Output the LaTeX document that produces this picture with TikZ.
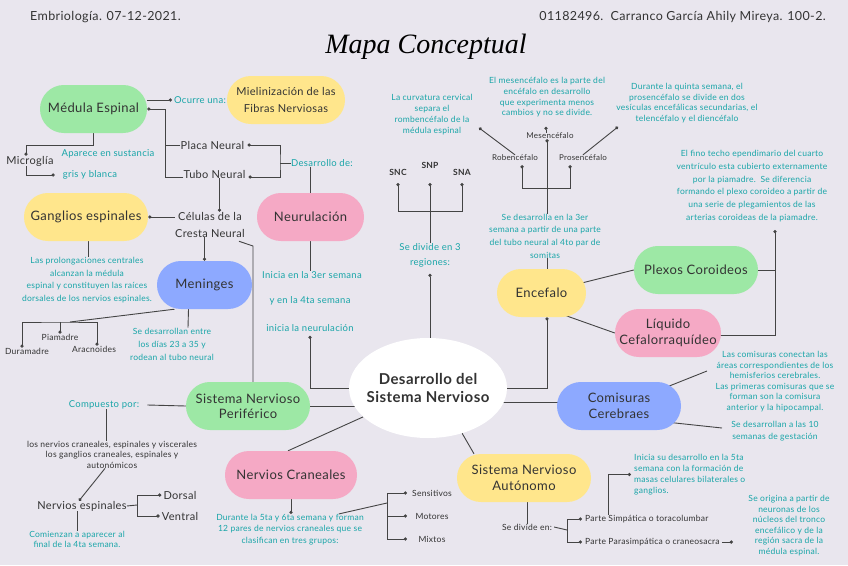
\documentclass[tikz,border=0pt]{standalone}
\usepackage{fontspec}
\setmainfont{Lato}[LetterSpace=3]
\newfontfamily\titlefont{Liberation Serif}
\usetikzlibrary{arrows.meta,shapes.geometric}
\definecolor{bgc}{HTML}{E9E6EE}
\definecolor{grn}{HTML}{9DE8A5}
\definecolor{yel}{HTML}{FFE68C}
\definecolor{pnk}{HTML}{F5A9C5}
\definecolor{blu}{HTML}{8DA9FF}
\definecolor{tealc}{HTML}{19A5A8}
\definecolor{ink}{HTML}{333333}
\definecolor{linec}{HTML}{444444}
\newcommand{\myfs}[2]{\fontsize{#1}{#2}\selectfont}
\pgfdeclarelayer{back}
\pgfsetlayers{back,main}
\tikzset{
 pill/.style={rectangle, rounded corners=23.9pt, minimum height=48pt, inner sep=0pt, align=center, text=ink, font=\myfs{13}{16}},
 hd/.style={text=ink, inner sep=0pt, font=\myfs{12.5}{14}},
 dk/.style={text=ink, inner sep=0pt, align=center, font=\myfs{11}{17}},
 sm/.style={text=ink, inner sep=0pt, align=center, font=\myfs{8.5}{10.5}},
 bsm/.style={text=ink, inner sep=0pt, align=center, font=\bfseries\myfs{8.5}{10.5}},
 tn/.style={text=tealc, inner sep=0pt, align=center, font=\myfs{8.5}{#1}},
 tn/.default=10.6,
 tm/.style={text=tealc, inner sep=0pt, align=center, font=\myfs{9.5}{#1}},
 tm/.default=12,
 ln/.style={draw=linec, line width=0.9pt},
 dot/.style={-{Circle[length=3.2pt]}},
 sdot/.style={{Circle[length=3.2pt]}-},
 ddot/.style={{Circle[length=3.2pt]}-{Circle[length=3.2pt]}},
}
\begin{document}
\begin{tikzpicture}[x=1pt,y=-1pt]
\useasboundingbox (0,0) rectangle (848,565);
% header and title
\node[hd, anchor=west] (h1) at (30,17) {Embriología. 07-12-2021.};
\node[hd, anchor=east] (h2) at (826,17) {01182496.\ \ Carranco García Ahily Mireya. 100-2.};
\node[text=black, inner sep=0pt, font=\titlefont\itshape\myfs{28}{30}] (tt) at (426,47) {Mapa Conceptual};

% left upper
\node[pill, fill=grn, minimum width=107pt] (med) at (93.5,109) {Médula Espinal};
\node[pill, fill=yel, minimum width=118pt, font=\myfs{11}{17}] (miel) at (286,100) {Mielinización de las\\Fibras Nerviosas};
\node[tm] (ocu) at (200,100) {Ocurre una:};
\node[dk] (placa) at (212.5,145) {Placa Neural};
\node[dk] (tubo) at (214.5,174) {Tubo Neural};
\node[tm] (des) at (322,163) {Desarrollo de:};
\node[pill, fill=pnk, minimum width=107pt] (neu) at (310.5,217) {Neurulación};
\node[tm] (n1) at (312,275) {Inicia en la 3er semana};
\node[tm] (n2) at (310,301) {y en la 4ta semana};
\node[tm] (n3) at (310,328) {inicia la neurulación};
\node[dk] (mic) at (30,161) {Microglía};
\node[tm] (apa) at (108,154) {Aparece en sustancia};
\node[tm] (gris) at (90,175) {gris y blanca};
\node[dk] (cel) at (210,224.5) {Células de la\\Cresta Neural};
\node[pill, fill=yel, minimum width=124pt] (gan) at (86,217) {Ganglios espinales};
\node[tn=12.6] (gnote) at (87,280) {Las prolongaciones centrales\\alcanzan la médula\\espinal y constituyen las raíces\\dorsales de los nervios espinales.};
\node[pill, fill=blu, minimum width=95pt] (men) at (204.5,285) {Meninges};
\node[sm] (dura) at (27,351) {Duramadre};
\node[sm] (pia) at (60,337) {Piamadre};
\node[sm] (arac) at (94,349) {Aracnoides};
\node[tn=13] (mnote) at (172,344) {Se desarrollan entre\\los días 23 a 35 y\\rodean al tubo neural};

% left lower
\node[pill, fill=grn, minimum width=124pt, font=\myfs{13}{15}] (per) at (248,406) {Sistema Nervioso\\Periférico};
\node[tm] (comp) at (104,405) {Compuesto por:};
\node[sm] (list) at (112,454.5) {los nervios craneales, espinales y viscerales\\los ganglios craneales, espinales y\\autonómicos};
\node[dk] (nesp) at (82,506) {Nervios espinales};
\node[dk] (dors) at (180,495) {Dorsal};
\node[dk] (vent) at (180,516) {Ventral};
\node[tn=10] (comi) at (77,539) {Comienzan a aparecer al\\final de la 4ta semana.};
\node[pill, fill=pnk, minimum width=132pt] (ncr) at (291,475) {Nervios Craneales};
\node[tn=11.5] (cnote) at (290,529.5) {Durante la 5ta y 6ta semana y forman\\12 pares de nervios craneales que se\\clasifican en tres grupos:};
\node[sm] (sens) at (432,493) {Sensitivos};
\node[sm] (mot) at (432,516) {Motores};
\node[sm] (mix) at (432,539) {Mixtos};

% centre
\node[ellipse, fill=white, minimum width=158pt, minimum height=100pt, inner sep=-12pt, align=center, text=ink, font=\bfseries\myfs{15}{18}] (ell) at (428,388) {Desarrollo del\\Sistema Nervioso};
\node[tm=15.5] (sd) at (430,255.5) {Se divide en 3\\regiones:};
\node[bsm] (snc) at (398,172) {SNC};
\node[bsm] (snp) at (430,165) {SNP};
\node[bsm] (sna) at (462,172) {SNA};
\node[tn=11] (curv) at (432,114.5) {La curvatura cervical\\separa el\\rombencéfalo de la\\médula espinal};
\node[sm, font=\myfs{8}{10}] (rob) at (515,158) {Robencéfalo};
\node[sm, font=\myfs{8}{10}] (mes) at (550,136) {Mesencéfalo};
\node[sm, font=\myfs{8}{10}] (pro) at (583,158) {Prosencéfalo};
\node[tn=10.7] (mtext) at (547,97.5) {El mesencéfalo es la parte del\\encéfalo en desarrollo\\que experimenta menos\\cambios y no se divide.};
\node[tn=10.7] (qtext) at (687,103) {Durante la quinta semana, el\\prosencéfalo se divide en dos\\vesículas encefálicas secundarias, el\\telencéfalo y el diencéfalo};
\node[tn=12.7] (sdes) at (545,236) {Se desarrolla en la 3er\\semana a partir de una parte\\del tubo neural al 4to par de\\somitas};

% right
\node[pill, fill=yel, minimum width=89pt] (enc) at (541.5,293) {Encefalo};
\node[pill, fill=grn, minimum width=124pt] (plex) at (696,270) {Plexos Coroideos};
\node[pill, fill=pnk, minimum width=106pt, font=\myfs{13}{16}] (liq) at (668,333) {Líquido\\Cefalorraquídeo};
\node[tn=12.8] (fino) at (752,186) {El fino techo ependimario del cuarto\\ventrículo esta cubierto externamente\\por la piamadre.\ \ Se diferencia\\formando el plexo coroideo a partir de\\una serie de plegamientos de las\\arterias coroideas de la piamadre.};
\node[pill, fill=blu, minimum width=124pt, font=\myfs{13}{16}] (com) at (619,406) {Comisuras\\Cerebraes};
\node[tn=10.6] (cn1) at (775,381.5) {Las comisuras conectan las\\áreas correspondientes de los\\hemisferios cerebrales.\\Las primeras comisuras que se\\forman son la comisura\\anterior y la hipocampal.};
\node[tn=12] (cn2) at (775,431) {Se desarrollan a las 10\\semanas de gestación};
\node[pill, fill=yel, minimum width=134pt, font=\myfs{13}{16}] (sna2) at (524,478) {Sistema Nervioso\\Autónomo};
\node[sm] (sdiv) at (527,527) {Se divide en:};
\node[sm, anchor=west] (simp) at (585,519) {Parte Simpática o toracolumbar};
\node[sm, anchor=west] (para) at (585,542) {Parte Parasimpática o craneosacra};
\node[tn=11, align=left, anchor=west] (inic) at (634,474.5) {Inicia su desarrollo en la 5ta\\semana con la formación de\\masas celulares bilaterales o\\ganglios.};
\node[tn=10.6] (orig) at (789,525.5) {Se origina a partir de\\neuronas de los\\núcleos del tronco\\encefálico y de la\\región sacra de la\\médula espinal.};

\coordinate (j1) at (165,109);
\coordinate (j2) at (280,163);
\coordinate (bm) at (60,322);
\coordinate (b2) at (137,505);
\coordinate (b3) at (387,516);
\coordinate (b4) at (430,211);
\coordinate (b5) at (547,188);
\coordinate (b6) at (775,230);
\coordinate (b7) at (567,530);
\coordinate (c1) at (707,371);
\coordinate (c2) at (722,428);

\begin{pgfonlayer}{back}
\fill[bgc] (0,0) rectangle (848,565);
% upper left
\draw[ln,dot] (med.east |- ocu.west) -- ([xshift=-2pt]ocu.west);
\draw[ln,dot] ([yshift=-3pt]tubo.west) -| (j1) -- (med.east);
\draw[ln] (placa.west) -- (placa.west -| j1);
\draw[ln,ddot] ([xshift=3pt]placa.east) -| (j2) |- ([xshift=3pt,yshift=-3pt]tubo.east);
\draw[ln] (j2) -- (des.west);
\draw[ln] (des.south -| neu.north) -- (neu.north);
\draw[ln] (neu.south) -- (n1.north -| neu.south);
\draw[ln,sdot] ([yshift=-4pt]n3.south) |- (ell.center);
\draw[ln,dot] (med.south) |- (26,145) -- ([xshift=-4pt]mic.north);
\draw[ln,dot] ([xshift=-4pt]mic.south) |- ([xshift=-8pt]gris.west);
\draw[ln,dot] ([xshift=5pt]tubo.south) -- ([xshift=5pt]tubo.south |- cel.north);
\draw[ln,dot] (cel.west |- gan.east) -- (gan.east);
\draw[ln,dot] (cel.south -| men.north) -- (men.north);
\draw[ln] ([xshift=2pt]gan.south) -- ([xshift=2pt]gan.south |- gnote.north);
\draw[ln] ([xshift=-30pt]men.south) -- ([xshift=10pt]bm);
\draw[ln,ddot] ([xshift=-5pt]dura.north) |- (bm) -| ([xshift=3pt]arac.north);
\draw[ln,dot] (bm) -- (pia.north);
\draw[ln] ([xshift=-16pt]men.south) -- ([xshift=16pt]mnote.north);
\draw[ln] ([xshift=-6pt,yshift=-4pt]cel.south east) -- (253,246) -- (253,0 |- per.north);
% lower left
\draw[ln] (per.center) -- (ell.center |- per.center);
\draw[ln] (per.west) -- ([xshift=8pt]comp.east);
\draw[ln] ([xshift=2pt]comp.south) -- ([xshift=2pt]comp.south |- list.north);
\draw[ln,dot] ([xshift=-7pt]list.south) -- ([xshift=-3pt]nesp.north);
\draw[ln] (nesp.east) -- (b2);
\draw[ln,dot] (b2) |- ([xshift=-2pt]dors.west);
\draw[ln,dot] (b2) |- ([xshift=-2pt]vent.west);
\draw[ln] ([xshift=-5pt]nesp.south) -- ([xshift=-5pt]nesp.south |- comi.north);
\draw[ln] (ell.204) -- ([xshift=-3pt]ncr.north);
\draw[ln,dot] (ncr.south) -- (ncr.south |- cnote.north);
\draw[ln] ([xshift=49pt]cnote.north) -- (387,503);
\draw[ln] (387,493) -- (387,539);
\draw[ln,dot] (387,0 |- sens.west) -- (407,0 |- sens.west);
\draw[ln,dot] (b3) -- (407,0 |- mot.west);
\draw[ln,dot] (387,0 |- mix.west) -- (407,0 |- mix.west);
% centre
\draw[ln,sdot] ([yshift=-6pt]sd.south) -- (sd.south |- ell.north);
\draw[ln] (sd.north) -- (b4);
\draw[ln,dot] (b4) -| (snc.south |- 0,183);
\draw[ln,dot] (b4) -- (snp.south |- 0,183);
\draw[ln,dot] (b4) -| (sna.south |- 0,183);
\draw[ln,dot] (b5) -| ([xshift=7pt,yshift=-4pt]rob.south);
\draw[ln,dot] (b5) -| ([xshift=-13pt,yshift=-4pt]pro.south);
\draw[ln,dot] (sdes.north -| b5) -- (b5 |- mes.south);
\draw[ln,dot] ([xshift=-4pt]mes.north) -- ++(0,-6);
\draw[ln,dot] (rob.north) -- ++(-36,-27);
\draw[ln,dot] (pro.north) -- ++(35,-28);
% right
\draw[ln] (sdes.south -| b5) -- (b5 |- enc.north);
\draw[ln,sdot] (b5 |- enc.south) |- (ell.east);
\draw[ln] (enc.center) -- (plex.west);
\draw[ln] ([yshift=-14pt]enc.center) -- (liq.west);
\draw[ln] (plex.center) -- (b6 |- plex.center);
\draw[ln,sdot] (b6) |- ([yshift=-2pt]liq.center);
\draw[ln] ([yshift=4pt]com.center) -- ([yshift=4pt]com.center -| ell.center);
\draw[ln] (com.center) -- (c1);
\draw[ln] ([yshift=-11pt]com.center) -- (c2);
\draw[ln] (ell.307) -- ([xshift=-50pt]sna2.north);
\draw[ln] ([xshift=3pt]sna2.south) -- ([xshift=3pt]sna2.south |- sdiv.north);
\draw[ln] ([xshift=2pt]sdiv.east) -- (b7);
\draw[ln,dot] (b7) |- ([xshift=-3pt]simp.west);
\draw[ln,dot] (b7) |- ([xshift=-3pt]para.west);
\draw[ln,dot] ([xshift=23pt]simp.north west) |- ([xshift=-3pt]inic.west);
\draw[ln,dot] ([xshift=2pt]para.east) -- ++(11,0);
\end{pgfonlayer}
\end{tikzpicture}
\end{document}
